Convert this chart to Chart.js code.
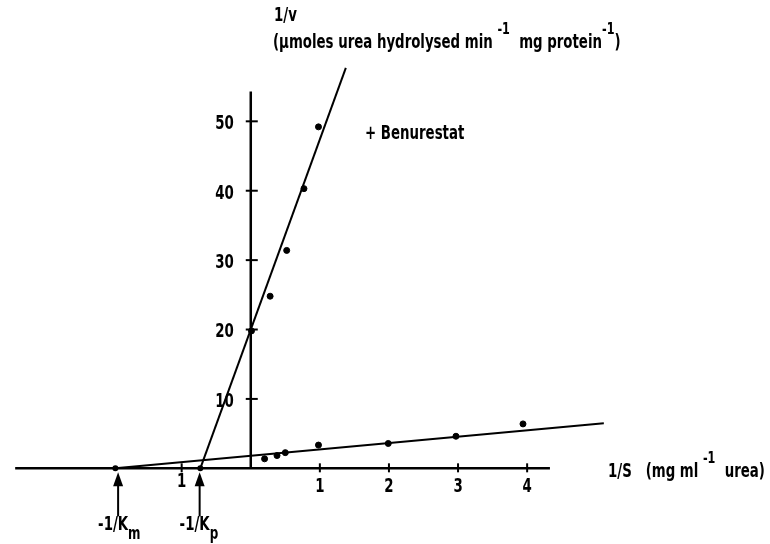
<!DOCTYPE html>
<html>
<head>
<meta charset="utf-8">
<script src="https://cdn.jsdelivr.net/npm/chart.js@4.4.1/dist/chart.umd.min.js"></script>
<style>
  html, body { margin: 0; padding: 0; background: #fff; }
  #wrap { width: 770px; height: 544px; }
</style>
</head>
<body>
<div id="wrap"><canvas id="plot"></canvas></div>
<script>
// 測定値（1/S, 1/v）
const controlX = [0.20, 0.38, 0.50, 0.98, 1.99, 2.97, 3.94];
const controlY = [1.37, 1.84, 2.26, 3.35, 3.58, 4.62, 6.40];
const benuX = [0.01, 0.28, 0.52, 0.77, 0.98];
const benuY = [19.8, 24.8, 31.4, 40.3, 49.2];

// 回帰直線の端点
const controlLineX = [-1.96, 5.11];
const controlLineY = [0, 6.5];
const benuLineX = [-0.73, 1.376];
const benuLineY = [0, 57.7];

// 軸
const xAxisRange = [-3.41, 4.33];
const yAxisRange = [0, 54.3];
const xTicks = [1, 2, 3, 4];
const xTickLabels = ['1', '2', '3', '4'];
const negTick = -1;
const negTickLabel = '1';
const yTicks = [10, 20, 30, 40, 50];
const yTickLabels = ['10', '20', '30', '40', '50'];
const markerX = [-1.96, -0.73];
const arrowX = [-1.92, -0.74];
const arrowLabels = [['-1/K', 'm'], ['-1/K', 'p']];

const FONT = '"DejaVu Sans Condensed", "Liberation Sans Narrow", sans-serif';
const SX = 0.78; // 文字を横に詰める
const INK = '#000';

function setFont(ctx, size) {
  ctx.font = `bold ${size}px ${FONT}`;
}

// 横に詰めた文字
function condText(ctx, str, x, y) {
  ctx.save();
  ctx.translate(x, y);
  ctx.scale(SX, 1);
  ctx.fillText(str, 0, 0);
  ctx.restore();
}

// 上付き・下付きを含むテキスト列を描く
function drawRuns(ctx, runs, x, y) {
  ctx.textAlign = 'left';
  ctx.textBaseline = 'alphabetic';
  let cx = x;
  runs.forEach(([str, size, dy]) => {
    setFont(ctx, size);
    condText(ctx, str, cx, y + dy);
    cx += ctx.measureText(str).width * SX;
  });
}

const axesPlugin = {
  id: 'lbAxes',
  beforeDatasetsDraw(chart) {
    const { ctx, scales: { x, y } } = chart;
    const x0 = x.getPixelForValue(0);
    const y0 = y.getPixelForValue(0);
    ctx.save();
    ctx.strokeStyle = INK;
    ctx.lineCap = 'butt';
    ctx.lineWidth = 2.5;

    // x軸
    ctx.beginPath();
    ctx.moveTo(x.getPixelForValue(xAxisRange[0]), y0);
    ctx.lineTo(x.getPixelForValue(xAxisRange[1]), y0);
    ctx.stroke();

    // y軸
    ctx.beginPath();
    ctx.moveTo(x0, y.getPixelForValue(yAxisRange[1]));
    ctx.lineTo(x0, y0);
    ctx.stroke();

    // x目盛り
    ctx.lineWidth = 2;
    xTicks.concat([negTick]).forEach(v => {
      const px = x.getPixelForValue(v);
      ctx.beginPath();
      ctx.moveTo(px, y0 - 5);
      ctx.lineTo(px, y0 + 4);
      ctx.stroke();
    });

    // y目盛り
    yTicks.forEach(v => {
      const py = y.getPixelForValue(v);
      ctx.beginPath();
      ctx.moveTo(x0 - 5, py);
      ctx.lineTo(x0 + 7, py);
      ctx.stroke();
    });

    // -1/Km, -1/Kp の点
    ctx.fillStyle = INK;
    markerX.forEach(v => {
      ctx.beginPath();
      ctx.arc(x.getPixelForValue(v), y0, 3, 0, Math.PI * 2);
      ctx.fill();
    });
    ctx.restore();
  },
  afterDraw(chart) {
    const { ctx, scales: { x, y } } = chart;
    const x0 = x.getPixelForValue(0);
    const y0 = y.getPixelForValue(0);
    ctx.save();
    ctx.fillStyle = INK;
    ctx.strokeStyle = INK;

    // y目盛りラベル
    setFont(ctx, 19);
    ctx.textAlign = 'right';
    ctx.textBaseline = 'middle';
    yTicks.forEach((v, i) => {
      condText(ctx, yTickLabels[i], x0 - 17, y.getPixelForValue(v) + 3);
    });

    // x目盛りラベル
    ctx.textAlign = 'center';
    ctx.textBaseline = 'alphabetic';
    xTicks.forEach((v, i) => {
      condText(ctx, xTickLabels[i], x.getPixelForValue(v), y0 + 24);
    });
    condText(ctx, negTickLabel, x.getPixelForValue(negTick), y0 + 19);

    // 矢印と -1/K ラベル
    ctx.lineWidth = 2;
    arrowX.forEach((v, i) => {
      const px = x.getPixelForValue(v);
      ctx.beginPath();
      ctx.moveTo(px, y0 + 48);
      ctx.lineTo(px, y0 + 14);
      ctx.stroke();
      ctx.beginPath();
      ctx.moveTo(px, y0 + 4);
      ctx.lineTo(px - 5, y0 + 18);
      ctx.lineTo(px + 5, y0 + 18);
      ctx.closePath();
      ctx.fill();
      const [main, sub] = arrowLabels[i];
      setFont(ctx, 19);
      const w = ctx.measureText(main).width * SX;
      drawRuns(ctx, [[main, 19, 0], [sub, 17, 9]], px - w + 10, y0 + 62);
    });

    // y軸タイトル
    drawRuns(ctx, [['1/v', 19, 0]], 274, 21);
    drawRuns(ctx, [
      ['(\u00b5moles urea hydrolysed min', 19, 0],
      [' ', 19, 0],
      ['-1', 16, -14],
      ['  mg protein', 19, 0],
      ['-1', 16, -14],
      [')', 19, 0]
    ], 273, 48);

    // x軸タイトル
    drawRuns(ctx, [
      ['1/S   (mg ml', 19, 0],
      [' ', 19, 0],
      ['-1', 16, -14],
      ['  urea)', 19, 0]
    ], 608, 477);

    // 系列ラベル
    drawRuns(ctx, [['+ Benurestat', 19, 0]], 365, 139);
    ctx.restore();
  }
};

const pxPerX = 70;
const pxPerY = 7.07;
const originX = 249;
const originY = 472;

new Chart(document.getElementById('plot'), {
  type: 'scatter',
  data: {
    datasets: [
      {
        label: 'control fit',
        data: controlLineX.map((v, i) => ({ x: v, y: controlLineY[i] })),
        showLine: true,
        borderColor: INK,
        borderWidth: 2,
        pointRadius: 0
      },
      {
        label: 'Benurestat fit',
        data: benuLineX.map((v, i) => ({ x: v, y: benuLineY[i] })),
        showLine: true,
        borderColor: INK,
        borderWidth: 2,
        pointRadius: 0
      },
      {
        label: 'control',
        data: controlX.map((v, i) => ({ x: v, y: controlY[i] })),
        backgroundColor: INK,
        borderColor: INK,
        pointRadius: 3
      },
      {
        label: '+ Benurestat',
        data: benuX.map((v, i) => ({ x: v, y: benuY[i] })),
        backgroundColor: INK,
        borderColor: INK,
        pointRadius: 3
      }
    ]
  },
  options: {
    responsive: true,
    maintainAspectRatio: false,
    animation: false,
    layout: { padding: 0 },
    plugins: {
      legend: { display: false },
      tooltip: { enabled: false }
    },
    scales: {
      x: {
        type: 'linear',
        display: false,
        min: -originX / pxPerX,
        max: (770 - originX) / pxPerX
      },
      y: {
        type: 'linear',
        display: false,
        min: -(544 - originY) / pxPerY,
        max: originY / pxPerY
      }
    }
  },
  plugins: [axesPlugin]
});
</script>
</body>
</html>
